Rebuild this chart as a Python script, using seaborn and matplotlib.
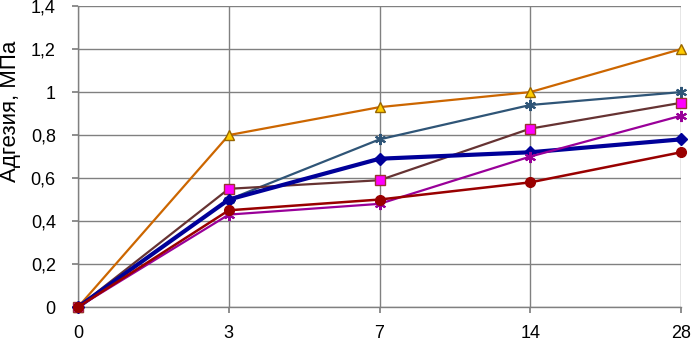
import seaborn as sns
import pandas as pd
import matplotlib.pyplot as plt

days = ['0', '3', '7', '14', '28']
s_orange = [0, 0.80, 0.93, 1.00, 1.20]
s_steel = [0, 0.50, 0.78, 0.94, 1.00]
s_brown = [0, 0.55, 0.59, 0.83, 0.95]
s_navy = [0, 0.50, 0.69, 0.72, 0.78]
s_purple = [0, 0.43, 0.48, 0.70, 0.89]
s_red = [0, 0.45, 0.50, 0.58, 0.72]

sns.set_theme(style="whitegrid")
plt.rcParams['font.family'] = ['Liberation Sans', 'DejaVu Sans']

fig = plt.figure(figsize=(6.91, 3.41), dpi=100)
ax = fig.add_axes([0.113, 0.0997, 0.8725, 0.8823])

star = (6, 2, 0)
styles = [
    (s_orange, '#CC6600', '^', '#FFCC00', '#996600', 1.6, 7),
    (s_steel, '#2F5577', star, '#2F5577', '#2F5577', 1.6, 8),
    (s_brown, '#663333', 's', '#FF00FF', '#993333', 1.6, 7),
    (s_navy, '#000099', 'D', '#000099', '#000099', 3.0, 6),
    (s_purple, '#990099', star, '#990099', '#990099', 1.6, 8),
    (s_red, '#990000', 'o', '#990000', '#990000', 1.8, 7),
]

xpos = list(range(len(days)))
for vals, col, mk, fc, ec, lw, ms in styles:
    df = pd.DataFrame({'x': xpos, 'y': vals})
    sns.lineplot(data=df, x='x', y='y', ax=ax, color=col, linewidth=lw,
                 marker=mk, markersize=ms, markerfacecolor=fc,
                 markeredgecolor=ec, markeredgewidth=1.5 if mk == star else 1.0,
                 clip_on=False, zorder=3)

ax.set_xlim(0, len(days) - 1)
ax.set_ylim(0, 1.4)
ax.set_xticks(xpos)
ax.set_xticklabels(days)
yt = [0, 0.2, 0.4, 0.6, 0.8, 1.0, 1.2, 1.4]
ax.set_yticks(yt)
ax.set_yticklabels([('%g' % v).replace('.', ',') for v in yt])
ax.set_xlabel('')
ax.set_ylabel('Адгезия, МПа', fontsize=16, color='black')
ax.yaxis.set_label_coords(-0.094, 0.65)
ax.tick_params(axis='both', labelsize=13, colors='black', length=4,
               direction='out', left=True, bottom=True, color='#808080')
ax.tick_params(axis='x', pad=9)
ax.tick_params(axis='y', pad=12)
ax.grid(True, color='#808080', linewidth=1.0)
for side in ['top', 'right']:
    ax.spines[side].set_visible(False)
for side in ['left', 'bottom']:
    ax.spines[side].set_color('#808080')
    ax.spines[side].set_linewidth(1.0)

plt.savefig('out.png', dpi=100)
